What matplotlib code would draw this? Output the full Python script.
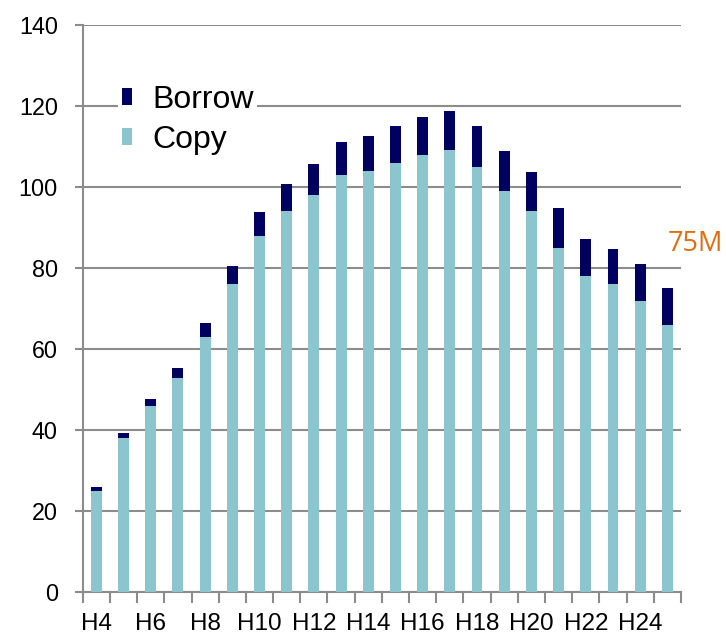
import numpy as np
import matplotlib.pyplot as plt

# Values
labels = ["H%d" % n for n in range(4, 26)]
copy = [25, 38, 46, 53, 63, 76, 88, 94, 98, 103, 104, 106,
        108, 109, 105, 99, 94, 85, 78, 76, 72, 66]
total = [26, 39.3, 47.6, 55.4, 66.4, 80.4, 93.8, 100.7, 105.7, 111, 112.6, 115,
         117.2, 118.8, 115, 108.8, 103.8, 94.9, 87.2, 84.8, 81, 75]
borrow = [t - c for t, c in zip(total, copy)]

copy_color = "#8BC5CD"
borrow_color = "#000060"
grid_color = "#8C8C8C"

plt.rcParams['font.family'] = ['Liberation Sans', 'DejaVu Sans']

fig = plt.figure(figsize=(7.26, 6.35), dpi=100)
ax = fig.add_axes([0.114, 0.067, 0.824, 0.894])

x = np.arange(len(labels))
ax.bar(x, copy, width=0.4, color=copy_color, label="Copy", zorder=3)
ax.bar(x, borrow, width=0.4, bottom=copy, color=borrow_color, label="Borrow", zorder=3)

ax.set_xlim(-0.5, len(labels) - 0.5)
ax.set_ylim(0, 140)
ax.set_yticks(range(0, 141, 20))
ax.yaxis.grid(True, color=grid_color, linewidth=1.5, zorder=0)

# tick marks between categories, labels under every other bar
ax.set_xticks(np.arange(-0.5, len(labels), 1))
ax.set_xticklabels([])
ax.set_xticks(x[::2], minor=True)
ax.set_xticklabels(labels[::2], minor=True)
ax.tick_params(axis='x', which='major', length=8, width=1.5, color=grid_color)
ax.tick_params(axis='x', which='minor', length=0, pad=15, labelsize=17.5)
ax.tick_params(axis='y', length=6, width=1.5, color=grid_color, labelsize=16.8, pad=12)

for side in ["top", "right"]:
    ax.spines[side].set_visible(False)
for side in ["left", "bottom"]:
    ax.spines[side].set_color(grid_color)
    ax.spines[side].set_linewidth(1.5)

handles, names = ax.get_legend_handles_labels()
leg = fig.legend(handles[::-1], names[::-1], loc="upper left",
                 bbox_to_anchor=(0.163, 0.871), fontsize=23, frameon=True,
                 facecolor="white", edgecolor="none", framealpha=1,
                 handlelength=0.34, handleheight=0.44, handletextpad=0.63,
                 labelspacing=0.31, borderpad=0.1, borderaxespad=0)
leg.set_zorder(5)

ax.text(0.978, 86, "75M", color="#E46C0A", fontsize=19.5,
        family="Open Sans", transform=ax.get_yaxis_transform(),
        ha="left", va="center", clip_on=False)

fig.savefig("out.png", dpi=100)
